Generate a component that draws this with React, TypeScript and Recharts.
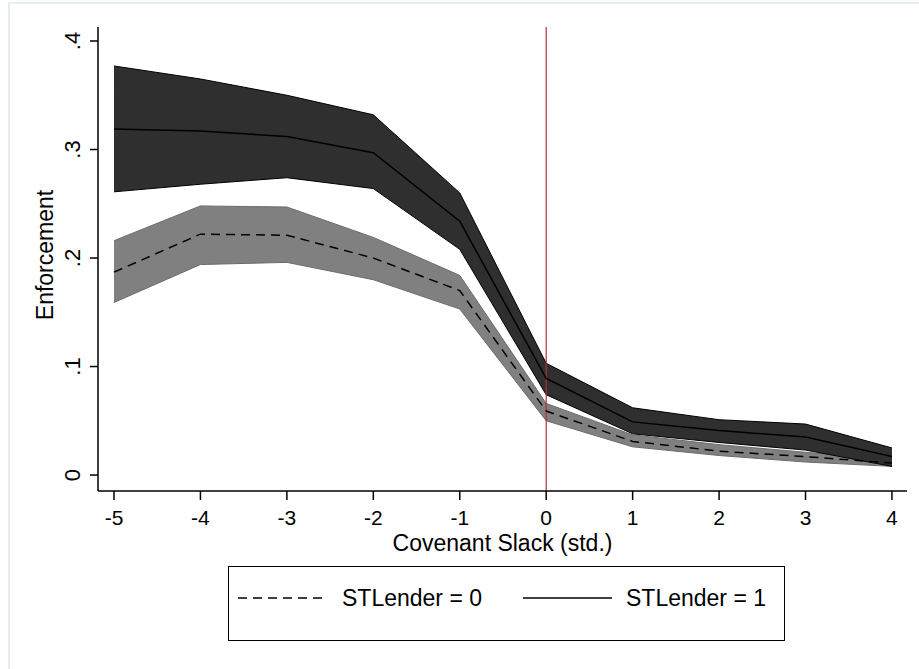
import React from 'react';
import { ComposedChart, Area, Line, XAxis, YAxis, ReferenceLine } from 'recharts';

// covenant slack (std.)
const slack = [-5, -4, -3, -2, -1, 0, 1, 2, 3, 4];

// STLender = 1 : point estimate and 95% band
const est1 = [0.319, 0.317, 0.312, 0.297, 0.234, 0.089, 0.049, 0.041, 0.035, 0.017];
const hi1 = [0.377, 0.365, 0.350, 0.332, 0.260, 0.103, 0.062, 0.051, 0.047, 0.025];
const lo1 = [0.261, 0.268, 0.274, 0.264, 0.208, 0.074, 0.038, 0.030, 0.023, 0.008];

// STLender = 0
const est0 = [0.187, 0.222, 0.221, 0.200, 0.170, 0.059, 0.031, 0.022, 0.017, 0.011];
const hi0 = [0.216, 0.248, 0.247, 0.219, 0.184, 0.066, 0.037, 0.028, 0.021, 0.014];
const lo0 = [0.159, 0.194, 0.196, 0.180, 0.153, 0.050, 0.026, 0.018, 0.012, 0.008];

const yTicks = [0, 0.1, 0.2, 0.3, 0.4];
const yTickLabels = ['0', '.1', '.2', '.3', '.4'];
const xTicks = [-5, -4, -3, -2, -1, 0, 1, 2, 3, 4];

const FONT = "'Liberation Sans', Arial, sans-serif";

const data = slack.map((x, i) => ({
    x,
    band0: [lo0[i], hi0[i]],
    band1: [lo1[i], hi1[i]],
    est0: est0[i],
    est1: est1[i],
}));

const XTick = (props: any) => {
    const { x, y, payload } = props;
    return (
        <text x={x} y={y + 25} textAnchor="middle" fontSize={21} fontFamily={FONT} fill="#000">
            {payload.value}
        </text>
    );
};

const YTick = (props: any) => {
    const { x, y, payload } = props;
    const idx = yTicks.indexOf(payload.value);
    const label = idx >= 0 ? yTickLabels[idx] : String(payload.value);
    return (
        <text
            x={x - 10}
            y={y}
            textAnchor="middle"
            fontSize={22}
            fontFamily={FONT}
            fill="#000"
            transform={`rotate(-90, ${x - 10}, ${y})`}
        >
            {label}
        </text>
    );
};

const App: React.FC = () => {
    return (
        <div style={{ position: 'absolute', left: 0, top: 0, width: 919, height: 669, background: '#fff' }}>
            <div
                style={{
                    position: 'absolute',
                    left: 8,
                    top: 2,
                    width: 911,
                    height: 667,
                    borderTop: '2px solid #e6edf0',
                    borderLeft: '2px solid #e6edf0',
                    boxSizing: 'border-box',
                }}
            />
            <ComposedChart
                width={919}
                height={669}
                data={data}
                margin={{ top: 27, right: 12, bottom: 118, left: 38 }}
                style={{ position: 'absolute', left: 0, top: 0 }}
            >
                <XAxis
                    type="number"
                    dataKey="x"
                    domain={[-5.185, 4.174]}
                    ticks={xTicks}
                    allowDataOverflow
                    height={60}
                    tickSize={9}
                    tickMargin={0}
                    stroke="#000"
                    strokeWidth={1.5}
                    tick={<XTick />}
                    label={{
                        content: (p: any) => {
                            const vb = p.viewBox;
                            return (
                                <text
                                    x={vb.x + vb.width / 2}
                                    y={vb.y + 60}
                                    textAnchor="middle"
                                    fontSize={23}
                                    fontFamily={FONT}
                                    fill="#000"
                                >
                                    Covenant Slack (std.)
                                </text>
                            );
                        },
                    }}
                />
                <YAxis
                    type="number"
                    domain={[-0.0147, 0.4129]}
                    ticks={yTicks}
                    allowDataOverflow
                    width={60}
                    tickSize={8}
                    tickMargin={0}
                    stroke="#000"
                    strokeWidth={1.5}
                    tick={<YTick />}
                    label={{
                        content: (p: any) => {
                            const vb = p.viewBox;
                            const cx = 53;
                            const cy = vb.y + vb.height / 2 - 4;
                            return (
                                <text
                                    x={cx}
                                    y={cy}
                                    textAnchor="middle"
                                    fontSize={23}
                                    fontFamily={FONT}
                                    fill="#000"
                                    transform={`rotate(-90, ${cx}, ${cy})`}
                                >
                                    Enforcement
                                </text>
                            );
                        },
                    }}
                />
                <Area
                    type="linear"
                    dataKey="band0"
                    fill="#808080"
                    fillOpacity={1}
                    stroke="#6b6b6b"
                    strokeWidth={1}
                    isAnimationActive={false}
                    activeDot={false}
                />
                <Area
                    type="linear"
                    dataKey="band1"
                    fill="#2f2f2f"
                    fillOpacity={1}
                    stroke="#000"
                    strokeWidth={1}
                    isAnimationActive={false}
                    activeDot={false}
                />
                <ReferenceLine x={0} stroke="#b03038" strokeWidth={1.2} />
                <Line
                    type="linear"
                    dataKey="est0"
                    stroke="#000"
                    strokeWidth={1.5}
                    strokeDasharray="9 6"
                    dot={false}
                    isAnimationActive={false}
                />
                <Line
                    type="linear"
                    dataKey="est1"
                    stroke="#000"
                    strokeWidth={1.5}
                    dot={false}
                    isAnimationActive={false}
                />
            </ComposedChart>
            <div
                style={{
                    position: 'absolute',
                    left: 228,
                    top: 566,
                    width: 557,
                    height: 75,
                    border: '1.5px solid #000',
                    boxSizing: 'border-box',
                    fontFamily: FONT,
                    fontSize: 23,
                    color: '#000',
                }}
            >
                <svg width={557} height={75} style={{ position: 'absolute', left: -1.5, top: -1.5 }}>
                    <line x1={10} x2={99} y1={32} y2={32} stroke="#000" strokeWidth={1.5} strokeDasharray="9 6" />
                    <text x={114} y={40} fontSize={23} fontFamily={FONT} fill="#000">STLender = 0</text>
                    <line x1={295} x2={384} y1={32} y2={32} stroke="#000" strokeWidth={1.5} />
                    <text x={398} y={40} fontSize={23} fontFamily={FONT} fill="#000">STLender = 1</text>
                </svg>
            </div>
        </div>
    );
};

export default App;
